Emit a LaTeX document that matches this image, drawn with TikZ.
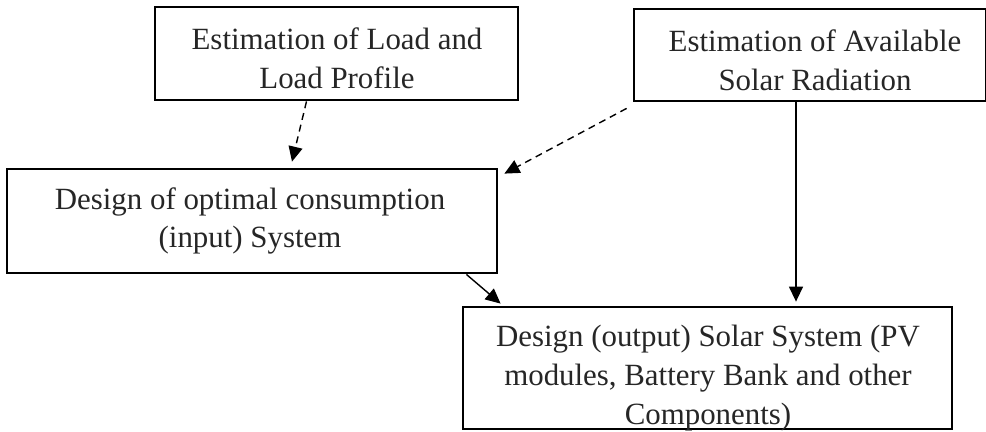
\documentclass[tikz,border=0pt]{standalone}
\usepackage{fontspec}
\setmainfont{Liberation Serif}
\usetikzlibrary{arrows.meta}

\begin{document}
\begin{tikzpicture}[x=1bp, y=-1bp, >={Triangle[length=15bp,width=14bp]},
box/.style={draw, line width=2.8bp, inner sep=0pt},
txt/.style={align=center, inner sep=0pt, text=black!85, font=\fontsize{31}{39}\selectfont},
link/.style={->, line width=1.4bp},
dlink/.style={->, line width=1.4bp, dash pattern=on 7bp off 5bp}]
\useasboundingbox (0,0) rectangle (986,431);

\node[box, minimum width=363bp, minimum height=93bp] at (336.5,53.5)(load) {};
\node[txt] at (337,58)(loadtxt) {Estimation of Load and\\Load Profile};

\node[box, minimum width=352bp, minimum height=92bp] at (810,55)(solar) {};
\node[txt] at (815,60)(solartxt) {Estimation of Available\\Solar Radiation};

\node[box, minimum width=490bp, minimum height=104bp] at (252,221)(cons) {};
\node[txt] at (250,221)(constxt) {Design of optimal consumption\\(input) System};

\node[box, minimum width=489bp, minimum height=122bp] at (707.5,368)(out) {};
\node[txt] at (708,378)(outtxt) {Design (output) Solar System (PV\\modules, Battery Bank and other\\Components)};

\draw[dlink] ([xshift=-30bp]load.south) -- ([xshift=40bp,yshift=6bp]cons.north);
\draw[dlink] ([xshift=-6bp,yshift=-6bp]solar.south west) -- ([xshift=6bp,yshift=-6bp]cons.north east);
\draw[link] ([xshift=-14bp]solar.south) -- ([xshift=-14bp,yshift=4bp]solar.south |- out.north);
\draw[link] ([xshift=-32bp]cons.south east) -- ([xshift=39bp,yshift=2bp]out.north west);

\end{tikzpicture}
\end{document}
